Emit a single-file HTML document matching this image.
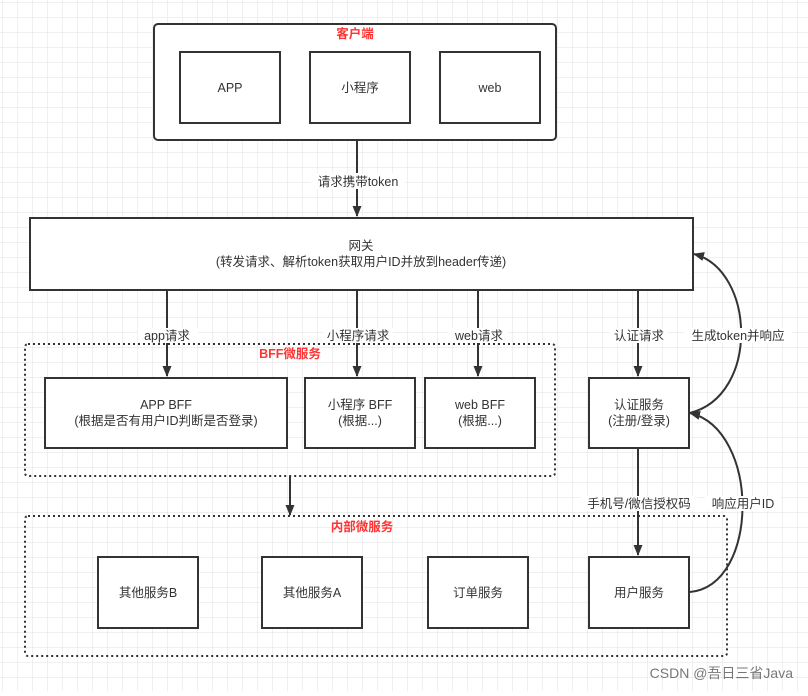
<!DOCTYPE html>
<html><head><meta charset="utf-8"><style>
html,body{margin:0;padding:0;background:#fff;}
svg text{font-family:"Liberation Sans","Noto Sans CJK SC",sans-serif;font-size:12.5px;fill:#333;}
</style></head><body>
<svg width="808" height="691" xmlns="http://www.w3.org/2000/svg">
<defs>
<pattern id="g" x="2" y="2" width="15" height="15" patternUnits="userSpaceOnUse">
<path d="M15 0H0V15" fill="none" stroke="#e2e2e2" stroke-width="1"/>
</pattern>
<marker id="a" markerWidth="12" markerHeight="12" refX="10" refY="6" orient="auto" markerUnits="userSpaceOnUse">
<path d="M0 1.5L11 6L0 10.5Z" fill="#333"/>
</marker>
</defs>
<rect width="808" height="691" fill="url(#g)"/>
<g fill="#fff" stroke="#333" stroke-width="2">
<rect x="154" y="24" width="402" height="116" rx="4"/>
<rect x="180" y="52" width="100" height="71"/>
<rect x="310" y="52" width="100" height="71"/>
<rect x="440" y="52" width="100" height="71"/>
<rect x="30" y="218" width="663" height="72"/>
</g>
<g fill="none" stroke="#333" stroke-width="2" stroke-dasharray="2 3">
<rect x="25" y="344" width="530" height="132" rx="3"/>
<rect x="25" y="516" width="702" height="140" rx="3"/>
</g>
<g fill="#fff" stroke="#333" stroke-width="2">
<rect x="45" y="378" width="242" height="70"/>
<rect x="305" y="378" width="110" height="70"/>
<rect x="425" y="378" width="110" height="70"/>
<rect x="589" y="378" width="100" height="70"/>
<rect x="98" y="557" width="100" height="71"/>
<rect x="262" y="557" width="100" height="71"/>
<rect x="428" y="557" width="100" height="71"/>
<rect x="589" y="557" width="100" height="71"/>
</g>
<g stroke="#333" stroke-width="2" fill="none" marker-end="url(#a)">
<path d="M357 140V216"/>
<path d="M167 290V376"/>
<path d="M357 290V376"/>
<path d="M478 290V376"/>
<path d="M638 290V376"/>
<path d="M290 476V515"/>
<path d="M638 448V555"/>
<path d="M690 413C760 395 755 270 694 254"/>
<path d="M690 592C760 585 760 430 690 413"/>
</g>
<g text-anchor="middle">
<rect x="311" y="173" width="94" height="16" fill="#fff"/>
<text x="358" y="186">请求携带token</text>
<rect x="138" y="328" width="60" height="15" fill="#fff"/>
<text x="167" y="340">app请求</text>
<rect x="323" y="328" width="70" height="15" fill="#fff"/>
<text x="358" y="340">小程序请求</text>
<rect x="448" y="328" width="60" height="15" fill="#fff"/>
<text x="479" y="340">web请求</text>
<rect x="610" y="328" width="58" height="15" fill="#fff"/>
<text x="639" y="340">认证请求</text>
<rect x="684" y="328" width="108" height="15" fill="#fff"/>
<text x="738" y="340">生成token并响应</text>
<rect x="581" y="496" width="116" height="15" fill="#fff"/>
<text x="639" y="508">手机号/微信授权码</text>
<rect x="705" y="496" width="76" height="15" fill="#fff"/>
<text x="743" y="508">响应用户ID</text>
<text x="355" y="38" style="fill:#ff3333;font-weight:bold">客户端</text>
<text x="290" y="358" style="fill:#ff3333;font-weight:bold">BFF微服务</text>
<text x="362" y="531" style="fill:#ff3333;font-weight:bold">内部微服务</text>
<text x="230" y="92">APP</text>
<text x="360" y="92">小程序</text>
<text x="490" y="92">web</text>
<text x="361" y="250">网关</text>
<text x="361" y="266">(转发请求、解析token获取用户ID并放到header传递)</text>
<text x="166" y="409">APP BFF</text>
<text x="166" y="425">(根据是否有用户ID判断是否登录)</text>
<text x="360" y="409">小程序 BFF</text>
<text x="360" y="425">(根据...)</text>
<text x="480" y="409">web BFF</text>
<text x="480" y="425">(根据...)</text>
<text x="639" y="409">认证服务</text>
<text x="639" y="425">(注册/登录)</text>
<text x="148" y="597">其他服务B</text>
<text x="312" y="597">其他服务A</text>
<text x="478" y="597">订单服务</text>
<text x="639" y="597">用户服务</text>
</g>
<text x="793" y="678" text-anchor="end" style="font-size:14px;fill:#777">CSDN @吾日三省Java</text>
</svg>
</body></html>
